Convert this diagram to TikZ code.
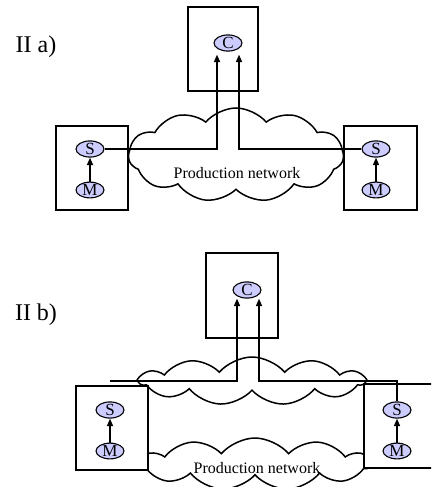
\documentclass[tikz,border=0pt]{standalone}
\usepackage{fontspec}
\setmainfont{Liberation Serif}
\usetikzlibrary{arrows.meta,shapes.symbols,shapes.geometric}

\begin{document}
\begin{tikzpicture}[x=1pt,y=-1pt,
   box/.style={draw,line width=1.7pt,fill=white,inner sep=0pt},
   agent/.style={draw,ellipse,fill=blue!20,line width=1.1pt,inner sep=0pt,
                 minimum width=28pt,minimum height=14pt,font=\fontsize{17}{17}\selectfont},
   net/.style={draw,cloud,cloud puffs=11,cloud puff arc=100,cloud ignores aspect,
               fill=white,line width=1.5pt,inner sep=0pt},
   tip/.style={line width=1.6pt,-{Triangle[length=7.5pt,width=6pt]}},
   lbl/.style={font=\fontsize{16}{16}\selectfont}]
   \useasboundingbox (0,0) rectangle (431,487);
   \clip (0,0) rectangle (431,487);

   % II a)
   \node[font=\fontsize{24}{24}\selectfont] (laba) at (36,47) {II a)};
   \node[net,minimum width=215pt,minimum height=94pt] (neta) at (236,155) {};
   \node[lbl] (neta_t) at (237,173) {Production network};
   \node[box,minimum width=70pt,minimum height=84pt] (boxCa) at (223,49) {};
   \node[box,minimum width=72pt,minimum height=84pt] (boxLa) at (92,168) {};
   \node[box,minimum width=73pt,minimum height=84pt] (boxRa) at (380.5,168) {};
   \node[agent] (Ca) at (228,43) {C};

   % II b)
   \node[font=\fontsize{24}{24}\selectfont] (labb) at (36,315) {II b)};
   \node[net,minimum width=225pt,minimum height=48pt] (netb1) at (252,381) {};
   \node[net,minimum width=232pt,minimum height=52pt] (netb2) at (255,464) {};
   \node[lbl] (netb_t) at (257,468) {Production network};
   \node[box,minimum width=72pt,minimum height=85pt] (boxCb) at (242,295.5) {};
   \node[box,minimum width=72pt,minimum height=84pt] (boxLb) at (112,428) {};
   \node[box,minimum width=90pt,minimum height=84pt] (boxRb) at (409,426) {};
   \node[agent] (Cb) at (247,290) {C};

   \foreach \n/\x/\y in {La/90/149, Ra/376/149, Lb/110/410, Rb/397/410} {
     \node[agent] (S\n) at (\x,\y) {S};
     \node[agent] (M\n) at (\x,\y+41) {M};
     \draw[tip] (M\n) -- (S\n);
   }

   \draw[tip,shorten >=3pt] (SLa.east) -| ([xshift=-11pt]Ca.south);
   \draw[tip,shorten >=3pt] (SRa.west) -| ([xshift=11pt]Ca.south);

   \coordinate (jb) at (110,381);
   \draw[tip] (jb) -| ([xshift=-10pt]Cb.south);
   \draw[tip] (SRb.north) |- ([xshift=12pt]Cb.south |- jb) -- ([xshift=12pt]Cb.south);
  \end{tikzpicture}
\end{document}
